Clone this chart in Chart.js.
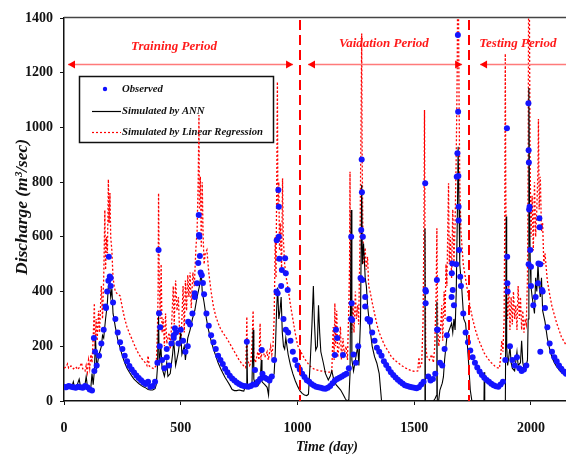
<!DOCTYPE html>
<html>
<head>
<meta charset="utf-8">
<script src="https://cdn.jsdelivr.net/npm/chart.js@4.4.1/dist/chart.umd.min.js"></script>
<style>
  html, body { margin: 0; padding: 0; background: #fff; }
  #wrap { width: 566px; height: 455px; }
</style>
</head>
<body>
<div id="wrap"><canvas id="flow"></canvas></div>
<script>
// observed discharge, one reading every 10 days starting at day 0
const obsStep = 10;
const obsQ = [
  52, 50, 55, 52, 50, 48, 52, 50, 48, 55,
  50, 42, 38, 110, 130, 165, 210, 260, 340, 440,
  420, 360, 300, 250, 215, 190, 165, 145, 128, 115,
  104, 93, 84, 76, 68, 62, 70, 52, 55, 70,
  140, 200, 150, 120, 160, 130, 210, 230, 250, 210,
  260, 220, 180, 200, 280, 320, 380, 430, 600, 460,
  390, 320, 275, 240, 215, 190, 165, 150, 135, 118,
  105, 92, 82, 75, 68, 62, 58, 55, 54, 52,
  55, 60, 60, 70, 80, 100, 85, 80, 75, 90,
  150, 400, 600, 420, 300, 260, 250, 220, 180, 150,
  130, 115, 100, 88, 76, 70, 62, 57, 52, 50,
  48, 46, 45, 48, 55, 65, 75, 80, 85, 90,
  95, 100, 120, 300, 170, 140, 200, 450, 600, 380,
  300, 290, 250, 220, 195, 180, 165, 145, 132, 118,
  105, 95, 86, 78, 70, 64, 58, 55, 52, 50,
  48, 47, 50, 60, 70, 400, 90, 75, 80, 100,
  260, 140, 130, 190, 240, 300, 380, 350, 500, 660,
  420, 320, 250, 215, 185, 160, 140, 122, 108, 95,
  85, 77, 70, 63, 58, 54, 52, 60, 70, 150,
  400, 200, 150, 130, 160, 120, 110, 115, 130, 500,
  420, 350, 380, 430, 500, 400, 340, 270, 210, 180,
  160, 145, 130, 118, 108, 100
];
// extra observed readings on the flood peaks [day, m3/s]
const obsPeaks = [
  [128,230],[133,180],[178,345],[185,400],[192,527],[196,455],[200,450],
  [405,552],[407,321],[412,270],[440,190],[470,240],[475,266],[532,290],
  [560,394],[575,504],[577,680],[578,607],[582,530],[585,470],[595,431],
  [783,217],[818,113],[847,186],[911,588],[915,394],[918,771],[920,710],
  [922,520],[933,479],[947,522],[950,467],[958,406],[1160,168],[1165,260],
  [1170,230],[1195,168],[1230,600],[1232,357],[1234,296],[1273,625],[1275,883],
  [1276,763],[1278,442],[1290,345],[1311,296],[1547,796],[1548,406],[1549,357],
  [1597,442],[1598,260],[1661,467],[1663,503],[1665,406],[1682,820],[1685,906],
  [1687,1338],[1688,1057],[1689,822],[1690,710],[1692,552],[1697,454],
  [1897,997],[1898,527],[1899,430],[1989,1088],[1990,917],[1991,872],[1992,700],
  [1994,710],[1997,552],[2000,491],[2032,503],[2036,668],[2037,635],[2040,180],
  [2047,406]
];
// ANN simulation [day, m3/s]; negative values fall below the axis
const annQ = [
  [0,50],[10,48],[20,52],[30,60],[35,55],[40,70],[45,50],[55,55],[65,80],[70,55],
  [80,50],[90,60],[95,90],[100,55],[110,45],[115,50],[120,100],[125,60],[130,110],
  [135,230],[140,120],[150,170],[160,200],[165,240],[170,230],[178,300],[185,350],
  [190,420],[195,430],[200,380],[205,410],[210,320],[220,270],[230,225],[240,195],
  [250,165],[260,140],[270,120],[280,105],[290,92],[300,80],[310,72],[320,64],
  [330,57],[340,52],[350,48],[360,42],[370,40],[380,40],[390,45],[395,60],[400,120],
  [405,310],[408,130],[415,200],[420,120],[430,90],[440,140],[445,90],[455,100],
  [465,170],[470,220],[478,130],[490,180],[500,250],[505,170],[515,200],[520,150],
  [530,230],[540,260],[550,300],[560,330],[570,380],[580,420],[588,470],[592,400],
  [596,380],[600,360],[610,300],[620,255],[630,220],[640,190],[650,165],[660,140],
  [670,120],[680,102],[690,86],[700,72],[710,58],[720,42],[730,38],[740,38],[750,40],
  [760,38],[770,36],[775,50],[780,45],[783,220],[786,60],[795,55],[805,60],[810,260],
  [813,80],[820,60],[830,55],[840,70],[845,150],[848,70],[860,60],[870,50],[876,22],
  [880,90],[890,80],[900,100],[905,180],[910,320],[915,415],[920,300],[925,330],
  [930,380],[935,250],[940,200],[945,190],[950,230],[955,200],[960,170],[970,130],
  [980,100],[990,75],[1000,55],[1010,38],[1020,28],[1030,22],[1040,20],[1047,25],
  [1055,150],[1062,280],[1068,420],[1072,300],[1078,186],[1085,200],[1090,350],
  [1095,250],[1100,180],[1111,138],[1120,100],[1132,77],[1140,90],[1147,110],
  [1155,80],[1165,60],[1175,50],[1185,40],[1195,25],[1205,8],[1212,0],[1220,5],
  [1225,100],[1230,698],[1233,150],[1240,110],[1250,160],[1258,200],[1263,130],
  [1270,300],[1275,790],[1278,500],[1283,576],[1290,450],[1295,420],[1300,350],
  [1311,260],[1320,200],[1330,162],[1340,138],[1350,100],[1355,50],[1360,0],
  [1365,-50],[1400,-80],[1500,-80],[1543,-60],[1546,631],[1548,-40],[1560,-20],
  [1575,-10],[1590,10],[1595,20],[1597,363],[1599,0],[1603,-10],[1610,40],[1620,65],
  [1625,88],[1630,150],[1640,235],[1650,260],[1660,284],[1665,250],[1670,300],
  [1675,260],[1680,400],[1685,700],[1688,929],[1692,700],[1695,500],[1704,406],
  [1712,300],[1720,284],[1728,200],[1733,138],[1740,40],[1747,0],[1752,-60],
  [1798,-60],[1800,105],[1802,-60],[1890,-60],[1894,674],[1896,200],[1900,130],
  [1905,160],[1910,200],[1915,140],[1920,120],[1930,110],[1940,180],[1945,130],
  [1955,140],[1960,220],[1965,140],[1970,120],[1980,130],[1985,150],[1988,300],
  [1991,1144],[1994,700],[1997,500],[2000,420],[2005,380],[2010,350],[2015,320],
  [2020,450],[2025,400],[2030,500],[2035,420],[2040,380],[2045,450],[2050,330],
  [2060,290],[2070,230],[2080,190],[2090,160],[2100,140],[2110,125],[2120,115],
  [2130,105],[2140,98],[2150,92]
];
// linear regression simulation [day, m3/s]
const lrQ = [
  [0,120],[10,125],[15,135],[20,120],[30,128],[40,118],[50,125],[60,115],[70,130],
  [75,140],[80,118],[90,110],[95,130],[100,105],[105,150],[110,120],[115,170],
  [120,140],[125,230],[130,357],[133,200],[138,300],[142,220],[148,330],[152,250],
  [160,420],[165,300],[170,450],[175,698],[178,480],[182,600],[186,540],[190,810],
  [193,650],[197,760],[200,600],[205,550],[210,450],[215,420],[220,400],[230,390],
  [240,385],[250,340],[260,300],[270,270],[280,248],[290,228],[300,208],[310,188],
  [320,172],[330,158],[340,148],[350,138],[355,130],[360,165],[365,128],[375,122],
  [385,118],[395,130],[400,250],[403,400],[405,760],[408,450],[412,300],[416,500],
  [420,250],[425,300],[430,200],[435,320],[440,210],[450,250],[455,190],[462,300],
  [468,420],[472,280],[478,440],[484,330],[490,380],[495,250],[500,200],[505,300],
  [510,420],[515,250],[520,440],[525,330],[530,460],[535,380],[540,470],[545,340],
  [552,470],[558,420],[565,560],[570,620],[575,820],[578,1045],[580,700],[584,820],
  [588,560],[592,800],[596,600],[600,500],[605,540],[612,552],[620,470],[630,400],
  [640,345],[650,310],[660,285],[670,265],[680,250],[690,238],[700,225],[710,210],
  [720,195],[730,180],[740,165],[750,150],[760,138],[770,128],[778,122],[781,200],
  [783,308],[786,150],[795,130],[800,140],[805,200],[810,330],[813,160],[820,140],
  [830,180],[835,150],[840,284],[843,150],[850,190],[860,160],[870,180],[875,150],
  [885,200],[890,170],[895,200],[900,300],[905,600],[908,450],[912,900],[914,1167],
  [916,700],[920,800],[923,550],[926,650],[932,480],[936,814],[939,600],[945,500],
  [952,450],[960,410],[970,350],[980,300],[990,250],[1000,205],[1010,186],
  [1018,174],[1030,155],[1047,135],[1060,122],[1075,115],[1090,112],[1110,108],
  [1130,106],[1147,105],[1150,200],[1153,270],[1157,150],[1160,357],[1163,200],
  [1168,330],[1172,160],[1178,200],[1184,272],[1188,150],[1195,230],[1200,170],
  [1208,200],[1214,150],[1220,350],[1223,500],[1225,838],[1227,400],[1232,250],
  [1238,350],[1242,250],[1248,400],[1252,300],[1258,350],[1262,280],[1268,600],
  [1272,1000],[1275,1343],[1277,900],[1280,620],[1284,500],[1290,560],[1294,480],
  [1300,527],[1305,420],[1311,400],[1320,360],[1330,320],[1340,280],[1350,250],
  [1362,225],[1375,200],[1390,180],[1400,165],[1415,150],[1430,140],[1445,130],
  [1460,122],[1475,115],[1490,110],[1505,108],[1515,110],[1520,160],[1525,125],
  [1532,135],[1538,300],[1542,700],[1544,1064],[1546,600],[1549,200],[1555,160],
  [1565,150],[1575,170],[1582,140],[1588,200],[1594,400],[1597,631],[1600,300],
  [1605,200],[1612,250],[1618,350],[1622,220],[1628,400],[1632,300],[1636,500],
  [1640,420],[1644,650],[1647,796],[1650,500],[1655,600],[1660,450],[1665,700],
  [1670,500],[1675,650],[1680,900],[1684,1200],[1686,1500],[1689,1500],[1692,1100],
  [1695,800],[1700,620],[1710,500],[1725,420],[1738,350],[1750,300],[1762,260],
  [1775,225],[1790,195],[1800,175],[1815,155],[1830,140],[1845,128],[1855,122],
  [1865,120],[1870,160],[1875,220],[1880,180],[1885,300],[1888,700],[1890,1270],
  [1892,800],[1895,400],[1900,300],[1905,420],[1910,260],[1915,380],[1920,280],
  [1925,400],[1930,300],[1935,350],[1940,260],[1945,420],[1950,300],[1955,380],
  [1960,260],[1965,330],[1970,250],[1975,300],[1980,280],[1985,450],[1988,900],
  [1990,1500],[1993,1500],[1996,900],[2000,600],[2005,750],[2010,550],[2015,800],
  [2020,600],[2025,700],[2030,850],[2032,1031],[2035,700],[2040,820],[2045,620],
  [2050,650],[2055,500],[2060,540],[2070,440],[2080,390],[2090,345],[2100,315],
  [2110,285],[2120,260],[2130,235],[2140,220],[2150,205]
];
const xTicks = [0, 500, 1000, 1500, 2000];
const yTicks = [0, 200, 400, 600, 800, 1000, 1200, 1400];
// period boundaries (day) and period labels
const splitDays = [1010, 1735];
const periods = [
  { name: 'Training Period',  from: 17,   to: 981,  text: 471,  ty: 47, head: [true, true] },
  { name: 'Vaidation Period', from: 1045, to: 1705, text: 1370, ty: 44, head: [true, true] },
  { name: 'Testing Period',   from: 1782, to: 2200, text: 1944, ty: 44, head: [true, false] }
];
const legendItems = ['Observed', 'Simulated by ANN', 'Simulated by Linear Regression'];

const obsPts = obsQ.map((q, i) => [i * obsStep, q]).concat(obsPeaks);

const serif = '"Liberation Serif", "Times New Roman", serif';
const RED = '#ff0000';

function arrowHead(ctx, x, y, dir) {
  ctx.beginPath();
  ctx.moveTo(x, y);
  ctx.lineTo(x - dir * 7, y - 4);
  ctx.lineTo(x - dir * 7, y + 4);
  ctx.closePath();
  ctx.fill();
}

const decor = {
  id: 'decor',
  beforeDatasetsDraw(chart) {
    const ctx = chart.ctx;
    // legend box
    ctx.save();
    ctx.strokeStyle = '#111';
    ctx.lineWidth = 1.5;
    ctx.strokeRect(79.5, 76.5, 194, 66);
    ctx.fillStyle = '#1010ff';
    ctx.beginPath();
    ctx.arc(105, 89, 2.2, 0, Math.PI * 2);
    ctx.fill();
    ctx.strokeStyle = '#000';
    ctx.lineWidth = 1.2;
    ctx.beginPath();
    ctx.moveTo(92, 111.5); ctx.lineTo(121, 111.5);
    ctx.stroke();
    ctx.strokeStyle = RED;
    ctx.setLineDash([2, 2]);
    ctx.beginPath();
    ctx.moveTo(92, 132.5); ctx.lineTo(121, 132.5);
    ctx.stroke();
    ctx.setLineDash([]);
    ctx.fillStyle = '#111';
    ctx.font = 'bold italic 10.7px ' + serif;
    ctx.textBaseline = 'middle';
    ctx.fillText(legendItems[0], 122, 89);
    ctx.fillText(legendItems[1], 122, 111);
    ctx.fillText(legendItems[2], 122, 132);
    ctx.restore();
  },
  afterDraw(chart) {
    const ctx = chart.ctx;
    const xs = chart.scales.x, ys = chart.scales.y;
    const area = chart.chartArea;
    ctx.save();
    // top frame line
    ctx.strokeStyle = '#444';
    ctx.lineWidth = 1.5;
    ctx.beginPath();
    ctx.moveTo(area.left, area.top - 0.5); ctx.lineTo(area.right, area.top - 0.5);
    ctx.stroke();
    // period split lines
    ctx.strokeStyle = RED;
    ctx.lineWidth = 2;
    ctx.setLineDash([10, 5]);
    splitDays.forEach(d => {
      const px = Math.round(xs.getPixelForValue(d));
      ctx.beginPath();
      ctx.moveTo(px, area.top + 2); ctx.lineTo(px, area.bottom);
      ctx.stroke();
    });
    ctx.setLineDash([]);
    // period arrows and names
    const ay = Math.round(ys.getPixelForValue(1232)) + 0.5;
    periods.forEach(p => {
      const x1 = xs.getPixelForValue(p.from), x2 = Math.min(xs.getPixelForValue(p.to), area.right + 5);
      ctx.strokeStyle = '#ff7a7a';
      ctx.lineWidth = 1.5;
      ctx.beginPath();
      ctx.moveTo(x1, ay); ctx.lineTo(x2, ay);
      ctx.stroke();
      ctx.fillStyle = RED;
      if (p.head[0]) arrowHead(ctx, x1, ay, -1);
      if (p.head[1]) arrowHead(ctx, x2, ay, 1);
      ctx.fillStyle = '#ff1a1a';
      ctx.font = 'bold italic 13px ' + serif;
      ctx.textAlign = 'center';
      ctx.textBaseline = 'middle';
      ctx.fillText(p.name, xs.getPixelForValue(p.text), p.ty);
    });
    // axis titles
    ctx.fillStyle = '#111';
    ctx.font = 'bold italic 14px ' + serif;
    ctx.textAlign = 'center';
    ctx.textBaseline = 'middle';
    ctx.fillText('Time (day)', 327, 447);
    ctx.translate(22, 207);
    ctx.rotate(-Math.PI / 2);
    ctx.font = 'bold italic 17.5px ' + serif;
    ctx.fillText('Discharge (m\u00b3/sec)', 0, 0);
    ctx.restore();
  }
};

const tickFont = { family: serif, size: 14, weight: 'bold' };

new Chart(document.getElementById('flow'), {
  type: 'scatter',
  data: {
    datasets: [{
      label: legendItems[0],
      data: obsPts,
      pointRadius: 3,
      pointBorderWidth: 0,
      pointBackgroundColor: '#1414ff',
      showLine: false
    }, {
      label: legendItems[1],
      data: annQ,
      showLine: true,
      borderColor: '#000',
      borderWidth: 1.1,
      pointRadius: 0,
      tension: 0
    }, {
      label: legendItems[2],
      data: lrQ,
      showLine: true,
      borderColor: RED,
      borderWidth: 1.3,
      borderDash: [2, 2],
      pointRadius: 0,
      tension: 0
    }]
  },
  options: {
    responsive: true,
    maintainAspectRatio: false,
    animation: false,
    layout: { autoPadding: false, padding: { top: 18, right: 0, left: 0, bottom: 0 } },
    plugins: { legend: { display: false }, tooltip: { enabled: false } },
    scales: {
      x: {
        type: 'linear',
        min: 0,
        max: 2150,
        afterFit: s => { s.height = 54; s.paddingLeft = 0; s.paddingRight = 0; },
        afterBuildTicks: s => { s.ticks = xTicks.map(v => ({ value: v })); },
        ticks: { color: '#111', padding: 15, font: tickFont, callback: v => String(v) },
        grid: { drawOnChartArea: false, tickLength: 4, color: '#111' },
        border: { color: '#111', width: 1.5 }
      },
      y: {
        min: 0,
        max: 1400,
        afterFit: s => { s.width = 64; },
        afterBuildTicks: s => { s.ticks = yTicks.map(v => ({ value: v })); },
        ticks: { color: '#111', padding: 7, font: tickFont, callback: v => String(v) },
        grid: { drawOnChartArea: false, tickLength: 4, color: '#111' },
        border: { color: '#111', width: 1.5 }
      }
    }
  },
  plugins: [decor]
});
</script>
</body>
</html>
